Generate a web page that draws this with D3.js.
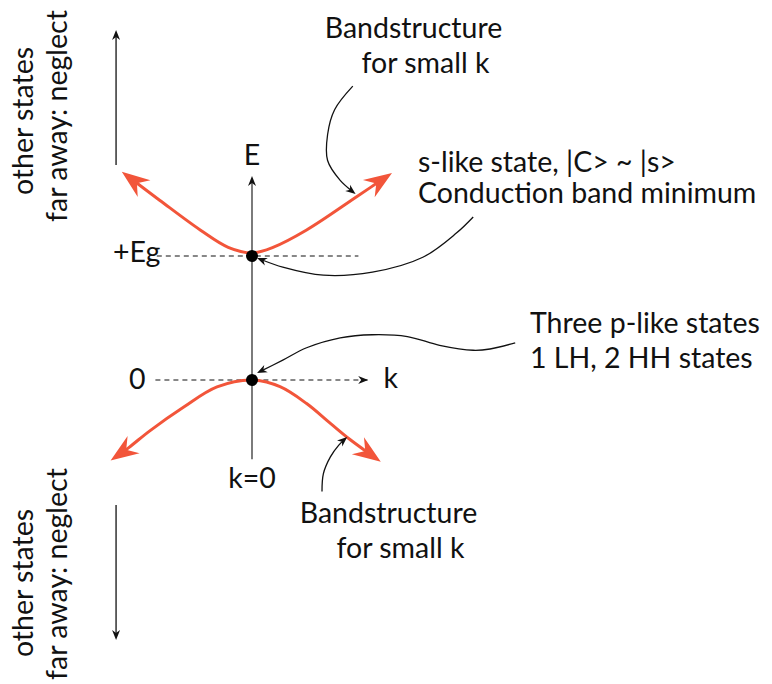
<!DOCTYPE html>
<html>
<head>
<meta charset="utf-8">
<script src="https://cdn.jsdelivr.net/npm/d3@7"></script>
<style>
  body { margin: 0; background: #fff; }
  text { font-family: Lato, "Open Sans", sans-serif; fill: #111; }
</style>
</head>
<body>
<div id="chart"></div>
<script>
// Bands near k = 0 (k arbitrary units, E in units of Eg)
const conductionBand = [[-0.93, 1.68], [-0.66, 1.45], [-0.37, 1.21], [-0.17, 1.07], [0, 1.025],
                        [0.15, 1.07], [0.39, 1.21], [0.75, 1.48], [1.0, 1.67]]
const valenceBand = [[-1.01, -0.65], [-0.88, -0.545], [-0.73, -0.41], [-0.49, -0.22], [-0.25, -0.056], [0, 0],
                     [0.2, -0.054], [0.39, -0.19], [0.56, -0.35], [0.7, -0.48], [0.92, -0.66]]
const levels = [{label: "+Eg", E: 1}, {label: "0", E: 0}]

// callout arrows (k, E), ending on the feature they point to
const calloutTopBand = [[0.72, 2.37], [0.59, 2.18], [0.54, 1.98], [0.54, 1.77], [0.63, 1.61], [0.74, 1.5]]
const calloutCBM = [[1.58, 1.315], [1.46, 1.185], [1.22, 0.99], [0.86, 0.87], [0.51, 0.845], [0.22, 0.91], [0.036, 0.984]]
const calloutVBM = [[1.88, 0.30], [1.7, 0.25], [1.58, 0.24], [1.34, 0.28], [1.11, 0.35], [0.86, 0.365],
                    [0.63, 0.34], [0.39, 0.26], [0.22, 0.16], [0.036, 0.056]]
const calloutLowBand = [[0.5, -0.90], [0.51, -0.755], [0.56, -0.62], [0.62, -0.525], [0.68, -0.46]]

const labelTopBand = ["Bandstructure", "for small k"]
const labelCBM = ["s-like state, |C> ~ |s>", "Conduction band minimum"]
const labelVBM = ["Three p-like states", "1 LH, 2 HH states"]
const labelLowBand = ["Bandstructure", "for small k"]
const labelOther = ["other states", "far away: neglect"]

let width = 772,
    height = 684,
    orange = "#f2553a",
    fontSize = 28.5

let svg = d3.select("#chart").append("svg")
    .attr("width", width)
    .attr("height", height)
    .attr("font-size", fontSize)

let x = d3.scaleLinear().domain([-1, 1]).range([112, 392])
let y = d3.scaleLinear().domain([0, 1]).range([380, 256])

let defs = svg.append("defs")
defs.append("marker")
    .attr("id", "headOrange")
    .attr("markerUnits", "userSpaceOnUse")
    .attr("viewBox", "-30 -12 32 24")
    .attr("markerWidth", 32).attr("markerHeight", 24)
    .attr("refX", 0).attr("refY", 0)
    .attr("orient", "auto")
  .append("path")
    .attr("d", "M0,0 L-28,-10.5 L-19,0 L-28,10.5 Z")
    .attr("fill", orange)
defs.append("marker")
    .attr("id", "headBlack")
    .attr("markerUnits", "userSpaceOnUse")
    .attr("viewBox", "-11 -6 12 12")
    .attr("markerWidth", 12).attr("markerHeight", 12)
    .attr("refX", 0).attr("refY", 0)
    .attr("orient", "auto")
  .append("path")
    .attr("d", "M0,0 L-10,-4 L-7,0 L-10,4 Z")
    .attr("fill", "#111")

// cut the stroke short so it hides under the arrow head
function trimEnd(sel, cut) {
  sel.each(function() {
    let L = this.getTotalLength()
    d3.select(this).attr("stroke-dasharray", (L - cut) + " " + (L + 20))
  })
}

let line = d3.line().x(d => x(d[0])).y(d => y(d[1])).curve(d3.curveCatmullRom.alpha(0.5))

// E axis
svg.append("path")
    .attr("d", line([[0, -0.64], [0, 1.645]]))
    .attr("stroke", "#444").attr("stroke-width", 1.4)
    .attr("marker-end", "url(#headBlack)")
    .call(trimEnd, 5)

// energy levels
let kExtent = {"+Eg": [-0.68, 0.76], "0": [-0.69, 0.83]}
svg.selectAll(".level").data(levels).enter().append("path")
    .attr("class", "level")
    .attr("d", d => line([[kExtent[d.label][0], d.E], [kExtent[d.label][1], d.E]]))
    .attr("stroke", "#111").attr("stroke-width", 1.2)
    .attr("stroke-dasharray", "5,4")
    .attr("marker-end", d => d.E === 0 ? "url(#headBlack)" : null)

svg.selectAll(".level_label").data(levels).enter().append("text")
    .attr("class", "level_label")
    .attr("x", d => d.E === 0 ? x(-0.76) : x(-0.655))
    .attr("y", d => y(d.E) + (d.E === 0 ? 9 : 6))
    .attr("text-anchor", "end")
    .text(d => d.label)

svg.append("text")
    .attr("x", x(0.94)).attr("y", y(0) + 8)
    .text("k")
svg.append("text")
    .attr("x", x(0)).attr("y", y(1.734))
    .attr("text-anchor", "middle")
    .text("E")
svg.append("text")
    .attr("x", x(0)).attr("y", y(-0.87))
    .attr("text-anchor", "middle")
    .text("k=0")

// bands: stroke trimmed at both ends, arrow heads at both ends
svg.selectAll(".band").data([conductionBand, valenceBand]).enter().append("path")
    .attr("class", "band")
    .attr("d", d => line(d))
    .attr("fill", "none")
    .attr("stroke", orange).attr("stroke-width", 3)
    .attr("marker-end", "url(#headOrange)")
    .each(function() {
      let L = this.getTotalLength()
      d3.select(this).attr("stroke-dasharray", "0 16 " + (L - 32) + " " + (L + 20))
    })
svg.selectAll(".band_left").data([conductionBand, valenceBand]).enter().append("path")
    .attr("class", "band_left")
    .attr("d", d => line(d.slice(0, 3).reverse()))
    .attr("fill", "none")
    .attr("stroke", "none")
    .attr("marker-end", "url(#headOrange)")

// band edge states
svg.selectAll(".dot").data(levels).enter().append("circle")
    .attr("class", "dot")
    .attr("cx", x(0)).attr("cy", d => y(d.E))
    .attr("r", 6)
    .attr("fill", "#000")

// callouts
svg.selectAll(".callout").data([calloutTopBand, calloutCBM, calloutVBM, calloutLowBand]).enter().append("path")
    .attr("class", "callout")
    .attr("d", d => line(d))
    .attr("fill", "none")
    .attr("stroke", "#111").attr("stroke-width", 1.3)
    .attr("marker-end", "url(#headBlack)")
    .call(trimEnd, 5)

// other states far away
let farArrows = [[[-0.971, 1.734], [-0.971, 2.823]], [[-0.971, -1.008], [-0.971, -2.097]]]
svg.selectAll(".far").data(farArrows).enter().append("path")
    .attr("class", "far")
    .attr("d", d => line(d))
    .attr("stroke", "#111").attr("stroke-width", 1.3)
    .attr("marker-end", "url(#headBlack)")
    .call(trimEnd, 5)

function rotatedBlock(cy1, cy2) {
  let g = svg.append("g")
  g.append("text")
      .attr("transform", "translate(33," + cy1 + ") rotate(-90)")
      .attr("text-anchor", "middle")
      .text(labelOther[0])
  g.append("text")
      .attr("transform", "translate(67," + cy2 + ") rotate(-90)")
      .attr("text-anchor", "middle")
      .text(labelOther[1])
}
rotatedBlock(121, 116)
rotatedBlock(583, 574)

function block(lines, xs, ys, anchor) {
  svg.append("g").selectAll("text").data(lines).enter().append("text")
      .attr("x", (d, i) => xs[i])
      .attr("y", (d, i) => ys[i])
      .attr("text-anchor", anchor)
      .text(d => d)
}
block(labelTopBand, [413.5, 425.5], [38, 73], "middle")
block(labelCBM, [418, 418], [172, 203], "start")
block(labelVBM, [530, 530], [333, 368], "start")
block(labelLowBand, [388.5, 400.5], [523, 558], "middle")
</script>
</body>
</html>
